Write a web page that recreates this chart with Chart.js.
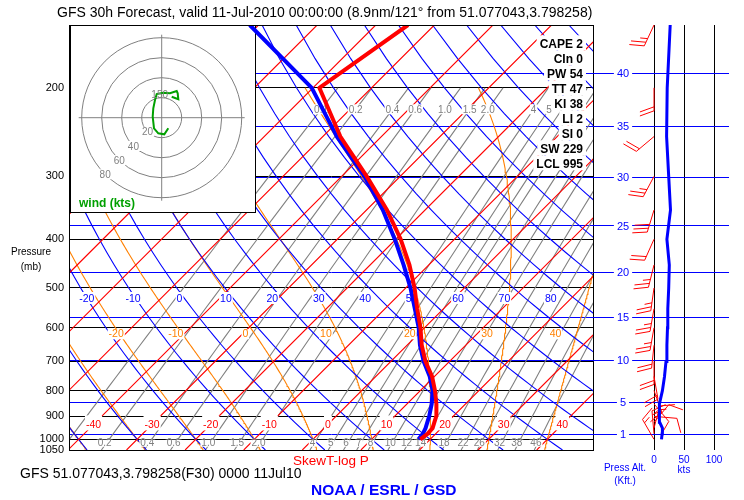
<!DOCTYPE html>
<html>
<head>
<meta charset="utf-8">
<script src="https://cdn.jsdelivr.net/npm/chart.js@4.4.1/dist/chart.umd.min.js"></script>
<style>
  body { margin: 0; background: #fff; }
  #wrap { position: relative; width: 744px; height: 500px; overflow: hidden; font-family: "Liberation Sans", Arial, sans-serif; }
  #wrap canvas { position: absolute; left: 0; top: 0; }
  .t { position: absolute; white-space: nowrap; line-height: 1; }
</style>
</head>
<body>
<div id="wrap">
  <canvas id="skew" width="744" height="500"></canvas>
  <canvas id="wind" width="744" height="500"></canvas>
  <div class="t" style="left:57px;top:5px;font-size:14px;">GFS 30h Forecast, valid 11-Jul-2010 00:00:00 (8.9nm/121° from 51.077043,3.798258)</div>
  <div class="t" style="left:0;width:62px;text-align:center;top:247px;font-size:10px;">Pressure</div>
  <div class="t" style="left:0;width:62px;text-align:center;top:262px;font-size:10px;">(mb)</div>
  <div class="t" style="left:293px;top:454px;font-size:13.5px;color:#ff0000;">SkewT-log P</div>
  <div class="t" style="left:20px;top:466px;font-size:14px;">GFS 51.077043,3.798258(F30) 0000 11Jul10</div>
  <div class="t" style="left:311px;top:482px;font-size:15.5px;font-weight:bold;color:#0000ff;">NOAA / ESRL / GSD</div>
  <div class="t" style="left:594px;width:62px;text-align:center;top:463px;font-size:10px;color:#0000ff;">Press Alt.</div>
  <div class="t" style="left:594px;width:62px;text-align:center;top:476px;font-size:10px;color:#0000ff;">(Kft.)</div>
  <div class="t" style="left:664px;width:40px;text-align:center;top:465px;font-size:10px;color:#0000ff;">kts</div>
</div>
<script>
// sounding (mb, degC)
const pLevels = [1000, 975, 950, 925, 900, 850, 800, 750, 700, 650, 600, 550, 500, 450, 400, 350, 300, 250, 200, 150];
const tempC   = [18.3, 18.6, 18.5, 17.8, 17.1, 15.0, 12.5, 9.6, 5.9, 2.5, -0.7, -4.5, -8.5, -13.3, -19.2, -26.5, -35.7, -47.0, -58.9, -54.5];
const dewC    = [18.0, 17.8, 17.3, 16.6, 15.9, 14.2, 12.1, 9.2, 5.6, 2.2, -1.0, -4.9, -9.2, -14.3, -20.2, -27.2, -36.1, -47.6, -60.2, -81.5];

// winds at the same levels (deg, kts)
const windDir = [330, 355, 15, 40, 95, 140, 160, 170, 180, 186, 190, 190, 188, 194, 204, 197, 208, 230, 180, 205];
const windSpd = [12.5, 13.5, 14, 9.5, 8.5, 9.5, 14, 17.5, 20, 21.5, 22.5, 23, 24.5, 25.5, 21.5, 27.5, 24.5, 21, 22, 27];

// hodograph trace (u, v in kts)
const hodoU = [6.6, 2.6, -3.4, -7.7, -9.0, -8.4, -6.7, -5.0, 1.6, 8.3, 15.0, 16.0, 16.6, 10.0];
const hodoV = [-10.6, -16.6, -15.6, -10.6, 1.0, 9.4, 17.7, 23.7, 25.0, 24.4, 26.7, 24.4, 18.4, 21.0];

// background lines and tick labels
const pressTicks = [200, 300, 400, 500, 600, 700, 800, 900, 1000, 1050];
const heightKft = [1, 5, 10, 15, 20, 25, 30, 35, 40];
const isoTemps = [-110, -100, -90, -80, -70, -60, -50, -40, -30, -20, -10, 0, 10, 20, 30, 40];
const dryThetas = [-40, -30, -20, -10, 0, 10, 20, 30, 40, 50, 60, 70, 80, 90, 100, 110, 120, 130, 140, 150, 160];
const moistThetas = [-40, -30, -20, -10, 0, 10, 20, 30, 40];
const mixRatios = [0.1, 0.2, 0.4, 0.6, 1, 1.5, 2, 4, 5, 6, 7, 8, 10, 12, 14, 18, 22, 26, 32, 38, 46];
const isoLabels = [-40, -30, -20, -10, 0, 10, 20, 30, 40];
const dryLabels = [-20, -10, 0, 10, 20, 30, 40, 50, 60, 70, 80];
const moistLabels = [-20, -10, 0, 10, 20, 30, 40];
const mixTopLabels = [0.1, 0.2, 0.4, 0.6, 1, 1.5, 2, 4, 5];
const indexNames = ['CAPE', 'CIn', 'PW', 'TT', 'KI', 'LI', 'SI', 'SW', 'LCL'];
const indexVals = [2, 0, 54, 47, 38, 2, 0, 229, 995];
const ringKts = [20, 40, 60, 80];
const windTicks = [0, 50, 100];

// layout
const PLOT = { left: 70, right: 593, top: 25, bottom: 450 };
const P_TOP = 150, P_BOT = 1050;
const DEG_PX = 5.86;
const ZERO_PX = 313;
const LN_PX = (PLOT.bottom - PLOT.top) / Math.log(P_BOT / P_TOP);
const SKEW = LN_PX / DEG_PX;
const X_MIN = (PLOT.left - ZERO_PX) / DEG_PX;
const X_MAX = (PLOT.right - ZERO_PX) / DEG_PX;
const HODO = { right: 255, bottom: 212, cx: 161.7, cy: 117.7, axis: 83 };
const WIND = { zero: 654, right: 729, pxPerKt: 0.6 };
const FONT = '"Liberation Sans", Arial, sans-serif';

Chart.defaults.font.family = FONT;

function skewX(t, p) { return t + SKEW * Math.log(1000 / p); }
function kftToP(h) { return 1013.25 * Math.pow(1 - 6.8756e-6 * h * 1000, 5.2559); }
function dryTemp(theta, p) { return (theta + 273.15) * Math.pow(p / 1000, 0.2857) - 273.15; }
function mixDew(w, p) {
  const e = w * p / (622 + w);
  const l = Math.log(e / 6.112);
  return 243.5 * l / (17.67 - l);
}
function moistRate(tk, p) {
  const tc = tk - 273.15;
  const es = 6.112 * Math.exp(17.67 * tc / (tc + 243.5));
  const rs = 0.622 * es / (p - es);
  return (287.04 * tk + 2.501e6 * rs) / (1005.7 + 2.501e6 * 2.501e6 * rs * 0.622 / (287.04 * tk * tk)) / p;
}
function moistStep(tk, p, dp) {
  const k1 = moistRate(tk, p);
  return tk + moistRate(tk + k1 * dp / 2, p + dp / 2) * dp;
}
function moistTemp(thw, pEnd) {
  let tk = thw + 273.15, p = 1000;
  const dp = pEnd < 1000 ? -5 : 5;
  while (Math.abs(pEnd - p) > 0.01) {
    const step = Math.abs(pEnd - p) < 5 ? pEnd - p : dp;
    tk = moistStep(tk, p, step);
    p += step;
  }
  return tk - 273.15;
}

// build broken lines for each family
const BREAK = { x: null, y: null };
const isoPts = [];
isoTemps.forEach(t => { isoPts.push({ x: skewX(t, P_BOT), y: P_BOT }, { x: skewX(t, P_TOP), y: P_TOP }, BREAK); });
const dryPts = [];
dryThetas.forEach(th => {
  for (let p = P_BOT; p >= P_TOP; p -= 25) dryPts.push({ x: skewX(dryTemp(th, p), p), y: p });
  dryPts.push(BREAK);
});
const moistPts = [];
moistThetas.forEach(th => {
  const tBot = moistTemp(th, P_BOT);
  let tk = tBot + 273.15;
  for (let p = P_BOT; p >= 200; p -= 5) {
    moistPts.push({ x: skewX(tk - 273.15, p), y: p });
    tk = moistStep(tk, p, -5);
  }
  moistPts.push(BREAK);
});
const mixPts = [];
mixRatios.forEach(w => {
  for (let p = P_BOT; p >= 200; p -= 25) mixPts.push({ x: skewX(mixDew(w, p), p), y: p });
  mixPts.push(BREAK);
});

function whiteLabel(ctx, text, x, y, color, font, size, padX, up, down, align) {
  ctx.font = font;
  const w = ctx.measureText(text).width;
  const left = align === 'right' ? x - w : x - w / 2;
  ctx.fillStyle = '#fff';
  ctx.fillRect(left - padX, y - up, w + 2 * padX, up + down);
  ctx.fillStyle = color;
  ctx.textAlign = 'left';
  ctx.textBaseline = 'alphabetic';
  ctx.fillText(text, left, y + size * 0.36);
}

function drawSkewLabels(chart) {
  const { ctx, scales: { x, y } } = chart;
  const px = (t, p) => x.getPixelForValue(skewX(t, p));
  const f10 = '10px ' + FONT, f105 = '10.5px ' + FONT;
  ctx.save();
  const pIso = 934;
  isoLabels.forEach(t => whiteLabel(ctx, String(t), px(t, pIso), y.getPixelForValue(pIso), '#ff0000', f105, 10.5, 1, 9, 6));
  const pDry = 523.5;
  dryLabels.forEach(th => {
    const xx = px(dryTemp(th, pDry), pDry) - 0.23 * (th + 20);
    whiteLabel(ctx, String(th), xx, y.getPixelForValue(pDry), '#0000ff', f105, 10.5, 1, 6, 6);
  });
  const pMoist = 615.4;
  moistLabels.forEach(th => {
    const xx = px(moistTemp(th, pMoist), pMoist) - 9 - 0.3 * th;
    whiteLabel(ctx, String(th), xx, y.getPixelForValue(pMoist), '#ff8000', f105, 10.5, 1, 4, 6);
  });
  const fmt = w => (w < 3 ? w.toFixed(1) : String(w));
  const pMixTop = 220.7;
  mixTopLabels.forEach(w => whiteLabel(ctx, fmt(w), px(mixDew(w, pMixTop), pMixTop), y.getPixelForValue(pMixTop), '#808080', f10, 10, 1, 5, 5));
  const pMixBot = 1015.6;
  mixRatios.forEach(w => {
    const xx = px(mixDew(w, pMixBot), pMixBot) - 2;
    if (xx < PLOT.left + 10 || xx > PLOT.right - 8) return;
    whiteLabel(ctx, fmt(w), xx, y.getPixelForValue(pMixBot), '#808080', f10, 10, 1, 3, 4);
  });
  const fb = 'bold 12px ' + FONT;
  indexNames.forEach((n, i) => {
    whiteLabel(ctx, n + ' ' + indexVals[i], PLOT.right - 10, 43.3 + 15 * i, '#000', fb, 12, 3, 8, 7, 'right');
  });
  ctx.restore();
}

function drawHodoBack(chart) {
  const { ctx, scales: { hx, hy } } = chart;
  const cx = hx.getPixelForValue(0), cy = hy.getPixelForValue(0);
  const k = hx.getPixelForValue(1) - cx;
  ctx.save();
  ctx.fillStyle = '#fff';
  ctx.fillRect(PLOT.left, PLOT.top, HODO.right - PLOT.left, HODO.bottom - PLOT.top);
  ctx.strokeStyle = '#808080';
  ctx.lineWidth = 1;
  ringKts.forEach(r => { ctx.beginPath(); ctx.arc(cx, cy, r * k, 0, Math.PI * 2); ctx.stroke(); });
  ctx.beginPath();
  ctx.moveTo(cx - HODO.axis * k, cy); ctx.lineTo(cx + HODO.axis * k, cy);
  ctx.moveTo(cx, cy - HODO.axis * k); ctx.lineTo(cx, cy + HODO.axis * k);
  ctx.stroke();
  ringKts.forEach(r => {
    const d = r * k * Math.SQRT1_2;
    whiteLabel(ctx, String(r), cx - d, cy + d, '#808080', '10px ' + FONT, 10, 1, 5, 5);
  });
  ctx.restore();
}

function drawHodoFront(chart) {
  const { ctx, scales: { hx, hy } } = chart;
  ctx.save();
  const last = hodoU.length - 1;
  ctx.font = '10px ' + FONT;
  ctx.fillStyle = '#808080';
  ctx.textAlign = 'center';
  ctx.fillText('150', hx.getPixelForValue(hodoU[last]) - 12, hy.getPixelForValue(hodoV[last]) + 1);
  ctx.font = 'bold 12px ' + FONT;
  ctx.fillStyle = '#00a000';
  ctx.textAlign = 'left';
  ctx.fillText('wind (kts)', PLOT.left + 9, HODO.bottom - 5);
  ctx.strokeStyle = '#000';
  ctx.lineWidth = 1;
  ctx.strokeRect(PLOT.left + 0.5, PLOT.top + 0.5, HODO.right - PLOT.left, HODO.bottom - PLOT.top);
  ctx.restore();
}

const skewDecor = {
  id: 'skewDecor',
  beforeDatasetDraw(chart, args) {
    const role = chart.data.datasets[args.index].role;
    if (role === 'hodo') drawHodoBack(chart);
    if (role === 'dew') drawSkewLabels(chart);
  },
  afterDatasetDraw(chart, args) {
    if (chart.data.datasets[args.index].role === 'hodo') drawHodoFront(chart);
  },
  afterDraw(chart) {
    const { ctx, chartArea: a } = chart;
    ctx.save();
    ctx.strokeStyle = '#000';
    ctx.lineWidth = 1;
    ctx.strokeRect(a.left - 0.5, a.top + 0.5, a.right - a.left + 1, a.bottom - a.top);
    ctx.restore();
  }
};

const thin = (data, color, order) => ({ data, showLine: true, borderColor: color, borderWidth: 1.1, pointRadius: 0, spanGaps: false, order });

new Chart(document.getElementById('skew'), {
  type: 'scatter',
  data: {
    datasets: [
      { role: 'temp', data: pLevels.map((p, i) => ({ x: skewX(tempC[i], p), y: p })), showLine: true, borderColor: '#ff0000', borderWidth: 4, pointRadius: 0, borderJoinStyle: 'round', order: 0 },
      { role: 'dew', data: pLevels.map((p, i) => ({ x: skewX(dewC[i], p), y: p })), showLine: true, borderColor: '#0000ff', borderWidth: 4, pointRadius: 0, borderJoinStyle: 'round', order: 1 },
      { role: 'hodo', data: hodoU.map((u, i) => ({ x: u, y: hodoV[i] })), xAxisID: 'hx', yAxisID: 'hy', showLine: true, borderColor: '#00a000', borderWidth: 2, pointRadius: 0, order: 2 },
      thin(isoPts, '#ff0000', 3),
      thin(dryPts, '#0000ff', 4),
      thin(moistPts, '#ff8000', 5),
      thin(mixPts, '#808080', 6)
    ]
  },
  options: {
    responsive: false,
    animation: false,
    events: [],
    layout: { padding: { left: 0, right: 744 - PLOT.right, top: PLOT.top, bottom: 500 - PLOT.bottom } },
    plugins: { legend: { display: false }, tooltip: { enabled: false } },
    scales: {
      x: { type: 'linear', min: X_MIN, max: X_MAX, display: false },
      y: {
        type: 'logarithmic', reverse: true, min: P_TOP, max: P_BOT, position: 'left',
        afterFit: s => { s.width = PLOT.left; },
        afterBuildTicks: s => { s.ticks = pressTicks.map(v => ({ value: v })); },
        ticks: { callback: v => String(v), color: '#000', font: { size: 11 }, padding: 6, autoSkip: false },
        grid: { color: '#000', drawTicks: false },
        border: { display: false }
      },
      yh: {
        type: 'logarithmic', reverse: true, min: P_TOP, max: P_BOT, position: 'right',
        afterFit: s => { s.width = 0; },
        afterBuildTicks: s => { s.ticks = heightKft.map(h => ({ value: kftToP(h) })); },
        ticks: { display: false },
        grid: { color: '#0000ff', drawTicks: false },
        border: { display: false }
      },
      hx: { type: 'linear', display: false, min: -(HODO.cx - PLOT.left), max: PLOT.right - HODO.cx },
      hy: { type: 'linear', display: false, min: -(PLOT.bottom - HODO.cy), max: HODO.cy - PLOT.top }
    }
  },
  plugins: [skewDecor]
});

function drawBarb(ctx, x0, y0, dir, spd) {
  const r = dir * Math.PI / 180;
  const sx = Math.sin(r), sy = -Math.cos(r);
  const L = 23, B = 15, a = 70 * Math.PI / 180;
  const bx = sx * Math.cos(a) - sy * Math.sin(a);
  const by = sx * Math.sin(a) + sy * Math.cos(a);
  ctx.beginPath();
  ctx.moveTo(x0, y0);
  ctx.lineTo(x0 + sx * L, y0 + sy * L);
  let halves = Math.round(spd / 5);
  let pos = L;
  while (halves >= 2) {
    const px = x0 + sx * pos, py = y0 + sy * pos;
    ctx.moveTo(px, py); ctx.lineTo(px + bx * B, py + by * B);
    pos -= 4; halves -= 2;
  }
  if (halves === 1) {
    if (pos === L) pos -= 4;
    const px = x0 + sx * pos, py = y0 + sy * pos;
    ctx.moveTo(px, py); ctx.lineTo(px + bx * B / 2, py + by * B / 2);
  }
  ctx.stroke();
}

const windDecor = {
  id: 'windDecor',
  beforeDatasetsDraw(chart) {
    const { ctx, chartArea: a, scales: { x, y } } = chart;
    ctx.save();
    heightKft.forEach(h => whiteLabel(ctx, String(h), a.left + 30, y.getPixelForValue(kftToP(h)), '#0000ff', '11px ' + FONT, 11, 3, 5, 5));
    ctx.strokeStyle = '#ff0000';
    ctx.lineWidth = 1;
    pLevels.forEach((p, i) => drawBarb(ctx, x.getPixelForValue(0), y.getPixelForValue(p), windDir[i], windSpd[i]));
    ctx.restore();
  }
};

const WIND_MIN = -(WIND.zero - PLOT.right) / WIND.pxPerKt;
const WIND_MAX = WIND_MIN + (WIND.right - PLOT.right) / WIND.pxPerKt;

new Chart(document.getElementById('wind'), {
  type: 'scatter',
  data: {
    datasets: [{ data: pLevels.map((p, i) => ({ x: windSpd[i], y: p })), showLine: true, borderColor: '#0000ff', borderWidth: 3, pointRadius: 0 }]
  },
  options: {
    responsive: false,
    animation: false,
    events: [],
    layout: { padding: { left: PLOT.right, right: 744 - WIND.right, top: PLOT.top, bottom: 0 } },
    plugins: { legend: { display: false }, tooltip: { enabled: false } },
    scales: {
      x: {
        type: 'linear', min: WIND_MIN, max: WIND_MAX, position: 'bottom',
        afterFit: s => { s.height = 500 - PLOT.bottom; },
        afterBuildTicks: s => { s.ticks = windTicks.map(v => ({ value: v })); },
        ticks: { callback: v => String(v), color: '#0000ff', font: { size: 10 }, padding: 4, autoSkip: false, maxRotation: 0 },
        grid: { color: '#000', drawTicks: false },
        border: { display: false }
      },
      y: {
        type: 'logarithmic', reverse: true, min: P_TOP, max: P_BOT, position: 'left',
        afterFit: s => { s.width = 0; },
        afterBuildTicks: s => { s.ticks = heightKft.map(h => ({ value: kftToP(h) })); },
        ticks: { display: false },
        grid: { color: '#0000ff', drawTicks: false },
        border: { display: false }
      }
    }
  },
  plugins: [windDecor]
});
</script>
</body>
</html>
